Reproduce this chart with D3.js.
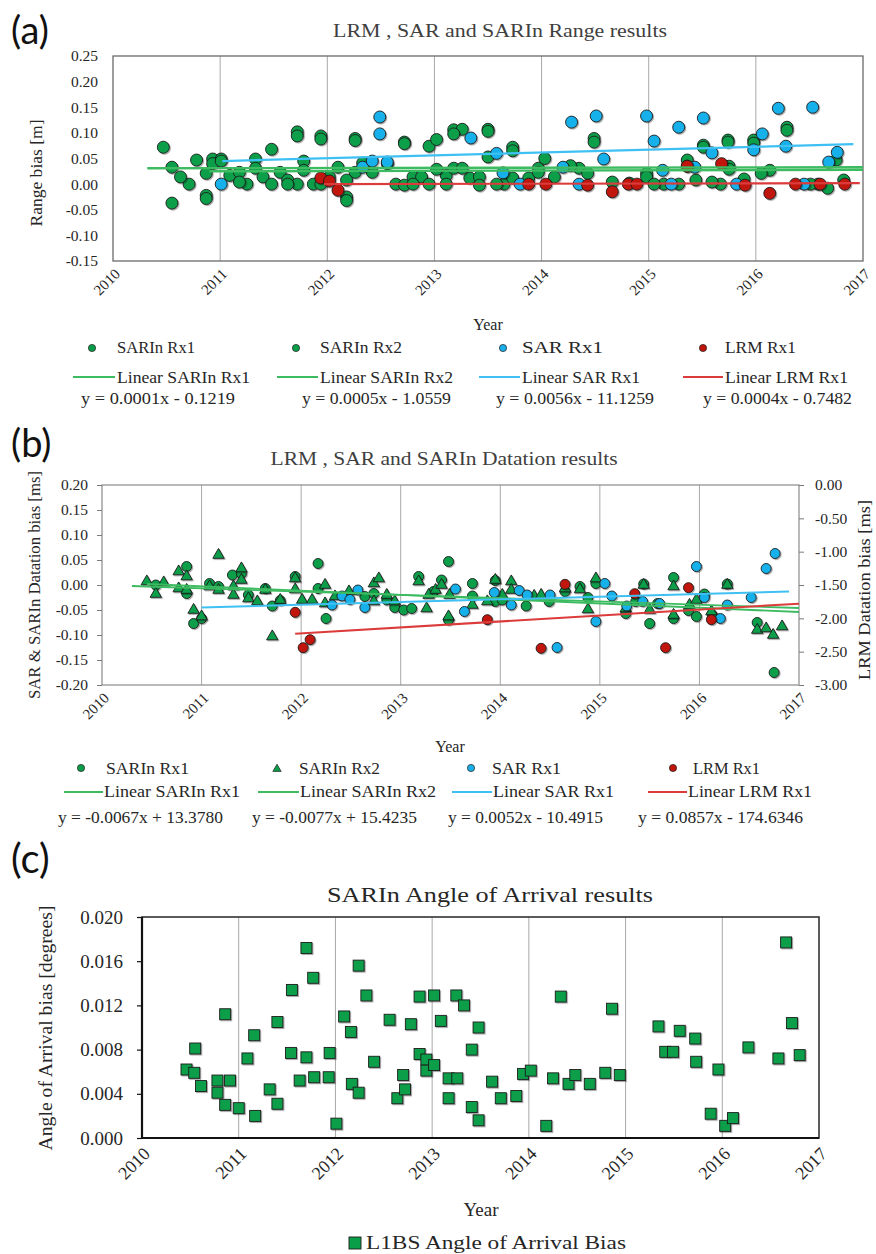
<!DOCTYPE html>
<html>
<head>
<meta charset="utf-8">
<script src="https://cdn.jsdelivr.net/npm/d3@7"></script>
<style>
  html, body { margin: 0; padding: 0; background: #fff; }
  svg { display: block; }
  text { fill: #262626; }
</style>
</head>
<body>
<svg id="chart" width="876" height="1254"></svg>
<script>
// ---------- shared tick values ----------
const yearTicks = [2010, 2011, 2012, 2013, 2014, 2015, 2016, 2017];
const gridYears = [2011, 2012, 2013, 2014, 2015, 2016];
const rangeTicks = [0.25, 0.20, 0.15, 0.10, 0.05, 0.00, -0.05, -0.10, -0.15];
const datationTicks = [0.20, 0.15, 0.10, 0.05, 0.00, -0.05, -0.10, -0.15, -0.20];
const lrmDatationTicks = [0.00, -0.50, -1.00, -1.50, -2.00, -2.50, -3.00];
const aoaTicks = [0.020, 0.016, 0.012, 0.008, 0.004, 0.000];

// ---------- legend text ----------
const seriesNames = ["SARIn Rx1", "SARIn Rx2", "SAR Rx1", "LRM Rx1"];
const trendNames = ["Linear SARIn Rx1", "Linear SARIn Rx2", "Linear SAR Rx1", "Linear LRM Rx1"];
const rangeEquations = ["y = 0.0001x - 0.1219", "y = 0.0005x - 1.0559", "y = 0.0056x - 11.1259", "y = 0.0004x - 0.7482"];
const datationEquations = ["y = -0.0067x + 13.3780", "y = -0.0077x + 15.4235", "y = 0.0052x - 10.4915", "y = 0.0857x - 174.6346"];

// ---------- (a) range bias [m] : [year, value] ----------
const rangeSarinRx1 = [[2010.47,0.072],[2010.55,0.033],[2010.71,0.000],[2010.87,0.021],[2010.87,-0.022],[2010.93,0.049],[2011.01,0.049],[2011.09,0.017],[2011.18,0.023],[2011.25,0.000],[2011.33,0.049],[2011.48,0.068],[2011.56,0.023],[2011.63,0.008],[2011.72,0.102],[2011.72,0.000],[2011.78,0.045],[2011.87,0.000],[2011.94,0.094],[2011.94,0.000],[2012.10,0.033],[2012.18,-0.025],[2012.26,0.089],[2012.26,0.023],[2012.42,0.023],[2012.64,0.000],[2012.72,0.082],[2012.80,0.014],[2012.88,0.014],[2012.95,0.074],[2013.02,0.087],[2013.11,0.017],[2013.18,0.106],[2013.18,0.031],[2013.26,0.107],[2013.33,0.012],[2013.42,0.014],[2013.50,0.107],[2013.50,0.053],[2013.65,0.000],[2013.73,0.072],[2013.73,0.012],[2013.97,0.031],[2014.12,0.014],[2014.35,0.031],[2014.49,0.089],[2014.82,0.002],[2014.98,0.021],[2015.14,0.000],[2015.36,0.047],[2015.51,0.076],[2015.67,0.000],[2015.74,0.086],[2015.75,0.035],[2015.98,0.086],[2016.13,0.027],[2016.29,0.111],[2016.58,0.000],[2016.75,0.047]];
const rangeSarinRx2 = [[2010.55,-0.037],[2010.63,0.014],[2010.78,0.047],[2010.87,-0.028],[2010.93,0.040],[2011.01,0.045],[2011.18,0.004],[2011.33,0.031],[2011.40,0.014],[2011.48,0.000],[2011.63,0.000],[2011.72,0.094],[2011.78,0.027],[2011.94,0.088],[2012.02,0.014],[2012.18,0.008],[2012.18,-0.032],[2012.26,0.085],[2012.33,0.041],[2012.56,0.040],[2012.72,0.079],[2012.72,-0.002],[2012.80,0.000],[2012.95,0.000],[2013.02,0.029],[2013.11,0.000],[2013.18,0.098],[2013.26,0.031],[2013.42,-0.002],[2013.50,0.103],[2013.58,0.000],[2013.73,0.065],[2013.88,0.012],[2013.97,0.023],[2014.03,0.050],[2014.27,0.036],[2014.43,0.021],[2014.49,0.082],[2014.66,0.004],[2014.98,0.014],[2015.05,0.000],[2015.28,0.000],[2015.36,0.035],[2015.44,0.008],[2015.51,0.072],[2015.59,0.004],[2015.74,0.082],[2015.75,0.029],[2015.89,0.010],[2015.98,0.080],[2016.05,0.021],[2016.29,0.105],[2016.51,0.000],[2016.67,-0.008],[2016.82,0.008]];
const rangeSar = [[2011.01,0.000],[2012.33,0.033],[2012.42,0.045],[2012.49,0.131],[2012.49,0.098],[2012.56,0.043],[2013.34,0.090],[2013.58,0.060],[2013.64,0.022],[2013.80,0.000],[2014.20,0.033],[2014.28,0.121],[2014.35,0.000],[2014.51,0.133],[2014.58,0.049],[2014.98,0.133],[2015.05,0.084],[2015.13,0.027],[2015.21,0.000],[2015.28,0.111],[2015.43,0.033],[2015.51,0.129],[2015.59,0.061],[2015.82,0.000],[2015.98,0.067],[2016.06,0.098],[2016.21,0.148],[2016.28,0.074],[2016.45,0.000],[2016.53,0.150],[2016.68,0.043],[2016.76,0.062]];
const rangeLrm = [[2011.94,0.012],[2012.02,0.006],[2012.10,-0.012],[2013.88,0.000],[2014.04,0.000],[2014.43,-0.002],[2014.66,-0.015],[2014.81,0.000],[2014.89,0.000],[2015.36,0.035],[2015.68,0.040],[2015.90,-0.002],[2016.13,-0.018],[2016.37,0.000],[2016.60,0.000],[2016.83,0.000]];
// fitted trend segments (start, end)
const rangeTrendSarinRx1 = [[2010.32,0.031],[2017.0,0.033]];
const rangeTrendSarinRx2 = [[2010.90,0.025],[2017.0,0.028]];
const rangeTrendSar = [[2011.02,0.045],[2016.91,0.078]];
const rangeTrendLrm = [[2011.97,0.000],[2016.97,0.002]];

// ---------- (b) datation bias [ms] ----------
const datSarinRx1 = [[2010.54,0.000],[2010.85,0.037],[2010.85,-0.017],[2010.92,-0.077],[2011.00,-0.067],[2011.08,0.003],[2011.17,-0.003],[2011.31,0.020],[2011.40,0.023],[2011.47,-0.020],[2011.64,-0.007],[2011.71,-0.042],[2011.79,-0.031],[2011.94,0.017],[2012.17,0.043],[2012.17,-0.007],[2012.25,-0.067],[2012.64,-0.023],[2012.73,-0.017],[2012.86,-0.030],[2012.94,-0.045],[2013.03,-0.050],[2013.11,-0.047],[2013.18,0.017],[2013.33,-0.013],[2013.41,0.010],[2013.48,0.047],[2013.48,-0.070],[2013.72,0.003],[2013.72,-0.022],[2013.95,0.009],[2013.95,-0.033],[2014.02,-0.030],[2014.26,-0.042],[2014.49,-0.033],[2014.65,-0.013],[2014.80,-0.003],[2014.88,-0.025],[2014.96,0.003],[2015.26,-0.057],[2015.36,-0.033],[2015.44,0.002],[2015.50,-0.077],[2015.58,-0.037],[2015.74,0.015],[2015.74,-0.067],[2015.89,-0.051],[2015.97,-0.063],[2016.05,-0.018],[2016.13,-0.060],[2016.28,0.002],[2016.58,-0.075],[2016.75,-0.175]];
const datSarinRx2 = [[2010.45,0.007],[2010.54,-0.018],[2010.62,0.005],[2010.77,0.027],[2010.85,0.017],[2010.77,-0.007],[2010.85,-0.010],[2010.92,-0.050],[2011.00,-0.063],[2011.17,0.060],[2011.08,-0.003],[2011.17,-0.010],[2011.32,-0.003],[2011.32,-0.020],[2011.40,0.033],[2011.40,0.010],[2011.47,-0.027],[2011.56,-0.033],[2011.64,-0.010],[2011.71,-0.103],[2011.79,-0.030],[2011.94,0.013],[2011.94,-0.009],[2012.01,-0.030],[2012.11,-0.030],[2012.24,0.000],[2012.24,-0.037],[2012.34,-0.023],[2012.48,-0.013],[2012.73,0.003],[2012.78,0.013],[2012.73,-0.033],[2012.86,-0.020],[2012.94,-0.033],[2013.18,0.007],[2013.28,-0.020],[2013.26,-0.047],[2013.35,-0.010],[2013.41,0.000],[2013.49,-0.020],[2013.48,-0.063],[2013.72,-0.040],[2013.87,-0.033],[2013.95,0.010],[2014.02,-0.020],[2014.11,0.007],[2014.11,-0.010],[2014.34,-0.022],[2014.41,-0.020],[2014.65,-0.007],[2014.80,-0.009],[2014.88,-0.049],[2014.96,0.013],[2015.26,-0.047],[2015.44,0.000],[2015.50,-0.050],[2015.74,-0.003],[2015.74,-0.060],[2015.90,-0.040],[2015.97,-0.030],[2016.12,-0.053],[2016.28,0.000],[2016.58,-0.090],[2016.67,-0.087],[2016.74,-0.100],[2016.83,-0.083]];
const datSar = [[2012.31,-0.040],[2012.41,-0.022],[2012.49,-0.029],[2012.57,-0.010],[2012.64,-0.045],[2013.55,-0.008],[2013.64,-0.053],[2013.94,-0.015],[2014.11,-0.040],[2014.19,-0.011],[2014.27,-0.020],[2014.50,-0.020],[2014.57,-0.125],[2014.96,-0.073],[2015.05,0.003],[2015.12,-0.022],[2015.27,-0.042],[2015.43,-0.033],[2015.60,-0.037],[2015.97,0.037],[2016.05,-0.025],[2016.21,-0.067],[2016.28,-0.040],[2016.52,-0.025],[2016.67,0.033],[2016.76,0.063]];
// LRM values on the right-hand axis
const datLrm = [[2011.94,-1.91],[2012.02,-2.44],[2012.09,-2.32],[2013.87,-2.02],[2014.41,-2.45],[2014.65,-1.49],[2015.35,-1.63],[2015.66,-2.44],[2015.89,-1.54],[2016.12,-2.02]];
const datTrendSarinRx1 = [[2010.30,-0.002],[2017.0,-0.046]];
const datTrendSarinRx2 = [[2010.45,0.002],[2017.0,-0.054]];
const datTrendSar = [[2011.00,-0.045],[2016.90,-0.013]];
const datTrendLrm = [[2011.94,-2.23],[2017.0,-1.78]];

// ---------- (c) angle of arrival bias [degrees] ----------
const aoaBias = [[2010.46,0.0062],[2010.54,0.0059],[2010.55,0.0081],[2010.61,0.0047],[2010.78,0.0052],[2010.78,0.0041],[2010.86,0.0112],[2010.86,0.0030],[2010.91,0.0052],[2011.00,0.0027],[2011.09,0.0072],[2011.16,0.0093],[2011.17,0.0020],[2011.32,0.0044],[2011.40,0.0105],[2011.40,0.0031],[2011.55,0.0134],[2011.54,0.0077],[2011.63,0.0052],[2011.70,0.0172],[2011.70,0.0073],[2011.77,0.0145],[2011.78,0.0055],[2011.93,0.0055],[2011.94,0.0077],[2012.01,0.0013],[2012.09,0.0110],[2012.16,0.0096],[2012.17,0.0049],[2012.24,0.0156],[2012.24,0.0041],[2012.32,0.0129],[2012.40,0.0069],[2012.56,0.0107],[2012.64,0.0036],[2012.70,0.0057],[2012.72,0.0044],[2012.78,0.0103],[2012.87,0.0128],[2012.87,0.0076],[2012.94,0.0071],[2012.94,0.0061],[2013.02,0.0066],[2013.02,0.0129],[2013.09,0.0106],[2013.17,0.0054],[2013.26,0.0054],[2013.17,0.0036],[2013.25,0.0129],[2013.33,0.0120],[2013.41,0.0080],[2013.48,0.0100],[2013.41,0.0028],[2013.48,0.0016],[2013.62,0.0051],[2013.71,0.0036],[2013.87,0.0038],[2013.94,0.0058],[2014.02,0.0061],[2014.18,0.0011],[2014.25,0.0054],[2014.33,0.0128],[2014.41,0.0049],[2014.48,0.0057],[2014.63,0.0049],[2014.79,0.0059],[2014.86,0.0117],[2014.94,0.0057],[2015.34,0.0101],[2015.41,0.0078],[2015.49,0.0078],[2015.56,0.0097],[2015.72,0.0090],[2015.73,0.0069],[2015.88,0.0022],[2015.96,0.0062],[2016.03,0.0011],[2016.11,0.0018],[2016.27,0.0082],[2016.58,0.0072],[2016.66,0.0177],[2016.72,0.0104],[2016.80,0.0075]];

// ---------- styling ----------
const C = {
  green: "#0b9e49", blue: "#19b0ea", red: "#c0140c",
  gLine: "#3dbb60", bLine: "#3ec0f2", rLine: "#dc3b3b",
  edge: "#1c1c1c", grid: "#a8a8a8", frame: "#6a6a6a"
};
const SERIF = '"Liberation Serif", "Times New Roman", serif';
const SANS = 'Lato, "Open Sans", sans-serif';

const svg = d3.select("#chart");
const defs = svg.append("defs");
const sh = defs.append("filter").attr("id", "shade")
  .attr("x", "-10%").attr("y", "-10%").attr("width", "120%").attr("height", "120%");
sh.append("feDropShadow").attr("dx", 1.1).attr("dy", 1.1).attr("stdDeviation", 0.7)
  .attr("flood-color", "#000").attr("flood-opacity", 0.35);

// text helper; width stretches the string to a fixed length
function txt(g, x, y, s, size, opt = {}) {
  const t = g.append("text").attr("x", x).attr("y", y).text(s)
    .style("font-size", size + "px").style("font-family", opt.family || SERIF);
  if (opt.anchor) t.attr("text-anchor", opt.anchor);
  if (opt.fill) t.style("fill", opt.fill);
  if (opt.width) t.attr("textLength", opt.width).attr("lengthAdjust", "spacingAndGlyphs");
  if (opt.transform) t.attr("transform", opt.transform);
  return t;
}

function frame(g, x, y, opt) {
  const [x0, x1] = x.range(), [y1, y0] = y.range();
  g.append("g").selectAll("line").data(gridYears).join("line")
    .attr("x1", d => x(d)).attr("x2", d => x(d)).attr("y1", y0).attr("y2", y1)
    .attr("stroke", C.grid).attr("stroke-width", 1);
  g.append("rect").attr("x", x0).attr("y", y0).attr("width", x1 - x0).attr("height", y1 - y0)
    .attr("fill", "none").attr("stroke", opt.stroke || C.frame).attr("stroke-width", opt.sw || 1.3);
}

function yearLabels(g, x, yBase, size, dx, dy) {
  g.append("g").selectAll("text").data(yearTicks).join("text")
    .attr("transform", d => `translate(${x(d) + dx},${yBase + dy}) rotate(-45)`)
    .attr("text-anchor", "end").style("font-size", size + "px").style("font-family", SERIF)
    .text(d => d);
}

function styleAxis(sel, size) {
  sel.select(".domain").remove();
  sel.selectAll("text").style("font-size", size + "px").style("font-family", SERIF).style("fill", "#262626");
  sel.selectAll("line").attr("stroke", "#7a7a7a");
}

function circles(g, data, x, y, r, fill) {
  g.append("g").attr("filter", "url(#shade)").selectAll("circle").data(data).join("circle")
    .attr("cx", d => x(d[0])).attr("cy", d => y(d[1])).attr("r", r)
    .attr("fill", fill).attr("stroke", C.edge).attr("stroke-width", 0.9);
}
const tri = d3.symbol().type(d3.symbolTriangle).size(56);
function triangles(g, data, x, y, fill) {
  g.append("g").attr("filter", "url(#shade)").selectAll("path").data(data).join("path")
    .attr("transform", d => `translate(${x(d[0])},${y(d[1])})`).attr("d", tri)
    .attr("fill", fill).attr("stroke", C.edge).attr("stroke-width", 0.9);
}
function trend(g, seg, x, y, color, w = 2.2) {
  g.append("path").datum(seg).attr("d", d3.line().x(d => x(d[0])).y(d => y(d[1])))
    .attr("fill", "none").attr("stroke", color).attr("stroke-width", w);
}

// ============ (a) Range ============
const xA = d3.scaleLinear().domain([2010, 2017]).range([113, 863]);
const yA = d3.scaleLinear().domain([-0.15, 0.25]).range([261, 56]);
const gA = svg.append("g");
txt(gA, 11, 44, "(a)", 38, { family: SANS, fill: "#111" });
txt(gA, 500, 37, "LRM , SAR and SARIn Range results", 18, { anchor: "middle", width: 334, fill: "#404040" });
frame(gA, xA, yA, {});
const axA = gA.append("g").attr("transform", `translate(${xA(2010)},0)`)
  .call(d3.axisLeft(yA).tickValues(rangeTicks).tickFormat(d => d.toFixed(2)).tickSize(0).tickPadding(15));
styleAxis(axA, 15.5);
txt(gA, 0, 0, "Range bias  [m]", 16, { anchor: "middle", transform: "translate(42,173) rotate(-90)", width: 107 });
yearLabels(gA, xA, yA(-0.15), 15, 8, 14);
txt(gA, 488, 330, "Year", 16, { anchor: "middle" });

circles(gA, rangeSarinRx1, xA, yA, 6, C.green);
circles(gA, rangeSarinRx2, xA, yA, 6, C.green);
circles(gA, rangeSar, xA, yA, 6, C.blue);
circles(gA, rangeLrm, xA, yA, 6, C.red);
trend(gA, rangeTrendSarinRx1, xA, yA, C.gLine, 2.4);
trend(gA, rangeTrendSarinRx2, xA, yA, C.gLine, 2.4);
trend(gA, rangeTrendSar, xA, yA, C.bLine);
trend(gA, rangeTrendLrm, xA, yA, C.rLine);

// legend (a)
const legAmark = [92, 296, 503, 703], legAtext = [117, 320, 522, 725];
const legAline = [[73, 115], [277, 318], [479, 520], [683, 723]];
const legAeq = [81, 302, 496, 703];
const legAw1 = [78, 82, 81, 71], legAw2 = [133, 133, 118, 123], legAw3 = [154, 149, 158, 149];
const markColors = [C.green, C.green, C.blue, C.red];
const lineColors = [C.gLine, C.gLine, C.bLine, C.rLine];
seriesNames.forEach((s, i) => {
  gA.append("circle").attr("cx", legAmark[i]).attr("cy", 348).attr("r", 3.6)
    .attr("fill", markColors[i]).attr("stroke", C.edge).attr("stroke-width", 0.7);
  txt(gA, legAtext[i], 353, s, 16, { width: legAw1[i] });
  gA.append("line").attr("x1", legAline[i][0]).attr("x2", legAline[i][1]).attr("y1", 377).attr("y2", 377)
    .attr("stroke", lineColors[i]).attr("stroke-width", 2);
  txt(gA, legAtext[i], 383, trendNames[i], 16, { width: legAw2[i] });
  txt(gA, legAeq[i], 404, rangeEquations[i], 16, { width: legAw3[i] });
});

// ============ (b) Datation ============
const xB = d3.scaleLinear().domain([2010, 2017]).range([102, 799]);
const yB = d3.scaleLinear().domain([-0.20, 0.20]).range([685, 485]);
const yBR = d3.scaleLinear().domain([-3.0, 0.0]).range([685, 485]);
const gB = svg.append("g");
txt(gB, 11, 457, "(b)", 38, { family: SANS, fill: "#111" });
txt(gB, 444, 465, "LRM , SAR and SARIn Datation results", 18, { anchor: "middle", width: 347, fill: "#404040" });
frame(gB, xB, yB, { stroke: "#8a8a8a", sw: 1.2 });
const axBL = gB.append("g").attr("transform", `translate(${xB(2010)},0)`)
  .call(d3.axisLeft(yB).tickValues(datationTicks).tickFormat(d => d.toFixed(2)).tickSize(5).tickPadding(9));
styleAxis(axBL, 15.5);
const axBR = gB.append("g").attr("transform", `translate(${xB(2017)},0)`)
  .call(d3.axisRight(yBR).tickValues(lrmDatationTicks).tickFormat(d => d.toFixed(2)).tickSize(5).tickPadding(11));
styleAxis(axBR, 15.5);
txt(gB, 0, 0, "SAR & SARIn Datation bias  [ms]", 16, { anchor: "middle", transform: "translate(40,585) rotate(-90)", width: 228 });
txt(gB, 0, 0, "LRM  Datation bias  [ms]", 16, { anchor: "middle", transform: "translate(870,590) rotate(-90)", width: 180 });
yearLabels(gB, xB, yB(-0.20), 15, 8, 14);
txt(gB, 450, 752, "Year", 16, { anchor: "middle" });

circles(gB, datSarinRx1, xB, yB, 5, C.green);
triangles(gB, datSarinRx2, xB, yB, C.green);
circles(gB, datSar, xB, yB, 5, C.blue);
circles(gB, datLrm, xB, yBR, 5, C.red);
trend(gB, datTrendSarinRx1, xB, yB, C.gLine, 1.8);
trend(gB, datTrendSarinRx2, xB, yB, C.gLine, 1.8);
trend(gB, datTrendSar, xB, yB, C.bLine, 2);
trend(gB, datTrendLrm, xB, yBR, C.rLine, 2);

// legend (b)
const legBmark = [81, 277, 471, 673], legBtext = [106, 299, 492, 693];
const legBline = [[64, 103], [258, 299], [452, 492], [648, 687]];
const legBtext2 = [104, 300, 493, 688];
const legBeq = [58, 252, 448, 638];
const legBw1 = [83, 81, 69, 67], legBw2 = [136, 136, 121, 124], legBw3 = [165, 165, 155, 165];
seriesNames.forEach((s, i) => {
  if (i === 1) {
    gB.append("path").attr("transform", `translate(${legBmark[i]},769)`)
      .attr("d", d3.symbol().type(d3.symbolTriangle).size(30))
      .attr("fill", C.green).attr("stroke", C.edge).attr("stroke-width", 0.7);
  } else {
    gB.append("circle").attr("cx", legBmark[i]).attr("cy", 768).attr("r", 3.6)
      .attr("fill", markColors[i]).attr("stroke", C.edge).attr("stroke-width", 0.7);
  }
  txt(gB, legBtext[i], 774, s, 16, { width: legBw1[i] });
  gB.append("line").attr("x1", legBline[i][0]).attr("x2", legBline[i][1]).attr("y1", 792).attr("y2", 792)
    .attr("stroke", lineColors[i]).attr("stroke-width", 2);
  txt(gB, legBtext2[i], 797, trendNames[i], 16, { width: legBw2[i] });
  txt(gB, legBeq[i], 823, datationEquations[i], 16, { width: legBw3[i] });
});

// ============ (c) Angle of arrival ============
const xC = d3.scaleLinear().domain([2010, 2017]).range([142, 819]);
const yC = d3.scaleLinear().domain([0, 0.020]).range([1138, 917]);
const gC = svg.append("g");
txt(gC, 11, 873, "(c)", 40, { family: SANS, fill: "#111" });
txt(gC, 490, 902, "SARIn Angle of Arrival results", 21, { anchor: "middle", width: 326, fill: "#262626" });
frame(gC, xC, yC, { stroke: "#333", sw: 1.6 });
gC.append("line").attr("x1", 142).attr("x2", 142).attr("y1", 917).attr("y2", 1138).attr("stroke", "#111").attr("stroke-width", 2.2);
gC.append("line").attr("x1", 142).attr("x2", 819).attr("y1", 1138).attr("y2", 1138).attr("stroke", "#111").attr("stroke-width", 2.2);
const axC = gC.append("g").attr("transform", `translate(${xC(2010)},0)`)
  .call(d3.axisLeft(yC).tickValues(aoaTicks).tickFormat(d => d.toFixed(3)).tickSize(5).tickPadding(14));
styleAxis(axC, 19);
axC.selectAll("line").attr("stroke", "#111").attr("stroke-width", 1.2);
txt(gC, 0, 0, "Angle of Arrival bias  [degrees]", 19, { anchor: "middle", transform: "translate(52,1028) rotate(-90)", width: 245 });
yearLabels(gC, xC, yC(0), 18, 9, 17);
txt(gC, 481, 1216, "Year", 19, { anchor: "middle" });

gC.append("g").attr("filter", "url(#shade)").selectAll("rect").data(aoaBias).join("rect")
  .attr("x", d => xC(d[0]) - 5.5).attr("y", d => yC(d[1]) - 5.5).attr("width", 11).attr("height", 11)
  .attr("fill", C.green).attr("stroke", C.edge).attr("stroke-width", 0.9);

gC.append("rect").attr("x", 349).attr("y", 1237).attr("width", 12).attr("height", 12)
  .attr("fill", C.green).attr("stroke", C.edge).attr("stroke-width", 0.9);
txt(gC, 366, 1249, "L1BS Angle of Arrival Bias", 18, { width: 260 });
</script>
</body>
</html>
